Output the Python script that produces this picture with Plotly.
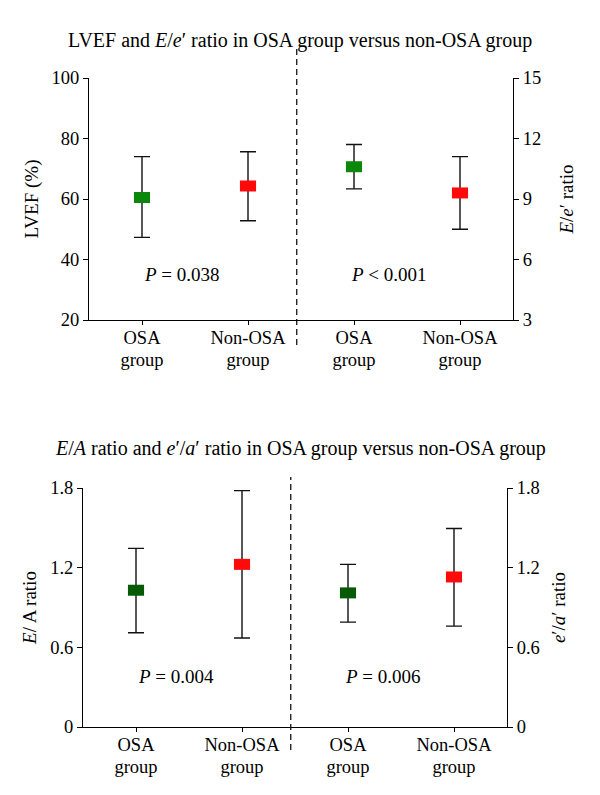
import plotly.graph_objects as go

# ---------------- data ----------------
cat_line1 = ["OSA", "Non-OSA", "OSA", "Non-OSA"]
cat_line2 = ["group", "group", "group", "group"]
x_pos = [1, 2, 3, 4]

# Top panel: LVEF (%) (left axis) and E/e' ratio (right axis)
lvef_mean = [60.5, 64.3]
lvef_upper = [74.0, 75.6]
lvef_lower = [47.3, 52.8]
ee_mean = [10.6, 9.3]
ee_upper = [11.7, 11.1]
ee_lower = [9.5, 7.5]

# Bottom panel: E/A ratio (left axis) and e'/a' ratio (right axis)
ea_mean = [1.03, 1.225]
ea_upper = [1.345, 1.78]
ea_lower = [0.71, 0.67]
eaa_mean = [1.01, 1.13]
eaa_upper = [1.225, 1.495]
eaa_lower = [0.79, 0.76]

p_texts_top = ["<i>P</i> = 0.038", "<i>P</i> < 0.001"]
p_texts_bottom = ["<i>P</i> = 0.004", "<i>P</i> = 0.006"]
p_y_top = [35.2, 5.28]
p_y_bottom = [0.384, 0.384]
p_x = [1.38, 3.33]
separator_x = 2.46

# ---------------- styles ----------------
FONT = "Liberation Serif"
GREEN_TOP = "#0b870b"
GREEN_BOT = "#065a06"
RED = "#ff0a0a"
BOX_HALF = 0.076

# page has an 8px body margin -> figure is drawn at (8, 8)
OFF = 8
W, H = 600 - OFF, 795 - OFF


def px_x(p):
    return (p - OFF) / W


def px_y(p):
    return 1 - (p - OFF) / H


fig = go.Figure()


def add_point(x, mean, up, lo, color, xa, ya):
    fig.add_trace(go.Scatter(
        x=[x], y=[mean], mode="markers",
        marker=dict(size=1, color=color),
        error_y=dict(type="data", symmetric=False,
                     array=[up - mean], arrayminus=[mean - lo],
                     color="#111111", thickness=1.4, width=8),
        error_x=dict(type="data", symmetric=True, array=[BOX_HALF],
                     color=color, thickness=11, width=0),
        xaxis=xa, yaxis=ya, showlegend=False, hoverinfo="skip",
    ))


# top panel
add_point(x_pos[0], lvef_mean[0], lvef_upper[0], lvef_lower[0], GREEN_TOP, "x", "y")
add_point(x_pos[1], lvef_mean[1], lvef_upper[1], lvef_lower[1], RED, "x", "y")
add_point(x_pos[2], ee_mean[0], ee_upper[0], ee_lower[0], GREEN_TOP, "x", "y2")
add_point(x_pos[3], ee_mean[1], ee_upper[1], ee_lower[1], RED, "x", "y2")
# bottom panel
add_point(x_pos[0], ea_mean[0], ea_upper[0], ea_lower[0], GREEN_BOT, "x2", "y3")
add_point(x_pos[1], ea_mean[1], ea_upper[1], ea_lower[1], RED, "x2", "y3")
add_point(x_pos[2], eaa_mean[0], eaa_upper[0], eaa_lower[0], GREEN_BOT, "x2", "y4")
add_point(x_pos[3], eaa_mean[1], eaa_upper[1], eaa_lower[1], RED, "x2", "y4")

# invisible carriers so the second-line ("group") axes get drawn
fig.add_trace(go.Scatter(x=x_pos, y=lvef_mean + lvef_mean, mode="markers",
                         marker=dict(opacity=0), xaxis="x3", yaxis="y",
                         showlegend=False, hoverinfo="skip"))
fig.add_trace(go.Scatter(x=x_pos, y=ea_mean + ea_mean, mode="markers",
                         marker=dict(opacity=0), xaxis="x4", yaxis="y3",
                         showlegend=False, hoverinfo="skip"))

FS = 18.5
tick_font = dict(family=FONT, size=FS, color="black")
title_font = dict(family=FONT, size=19, color="black")

common_x = dict(range=[0.5, 4.5], tickmode="array", tickvals=x_pos, ticktext=cat_line1,
                showline=True, linecolor="black", linewidth=1, ticks="outside",
                ticklen=4, tickcolor="black", showgrid=False, zeroline=False,
                tickfont=tick_font, fixedrange=True, automargin=False,
                ticklabelstandoff=-3)
second_x = dict(range=[0.5, 4.5], tickmode="array", tickvals=x_pos, ticktext=cat_line2,
                showline=False, ticks="", showgrid=False, zeroline=False, side="bottom",
                tickfont=tick_font, fixedrange=True, automargin=False,
                ticklabelstandoff=26)
common_y = dict(showline=True, linecolor="black", linewidth=1, ticks="outside",
                ticklen=5, tickcolor="black", showgrid=False, zeroline=False,
                tickfont=tick_font, fixedrange=True, automargin=False)

top_dom = [px_y(320), px_y(78)]
bot_dom = [px_y(727), px_y(488)]

fig.update_layout(
    width=W, height=H,
    margin=dict(l=0, r=0, t=0, b=0),
    paper_bgcolor="white", plot_bgcolor="white",
    font=dict(family=FONT, color="black"),
    xaxis=dict(common_x, domain=[px_x(89), px_x(513)], anchor="y"),
    xaxis3=dict(second_x, overlaying="x", anchor="y"),
    yaxis=dict(common_y, domain=top_dom, range=[20, 100], tickvals=[20, 40, 60, 80, 100],
               anchor="x", title=dict(text="LVEF (%)", font=title_font, standoff=7)),
    yaxis2=dict(common_y, range=[3, 15], tickvals=[3, 6, 9, 12, 15], overlaying="y",
                side="right", anchor="x",
                title=dict(text="<i>E</i>/<i>e</i>′ ratio", font=title_font, standoff=19)),
    xaxis2=dict(common_x, domain=[px_x(83), px_x(507)], anchor="y3"),
    xaxis4=dict(second_x, overlaying="x2", anchor="y3"),
    yaxis3=dict(common_y, domain=bot_dom, range=[0, 1.8], tickvals=[0, 0.6, 1.2, 1.8],
                ticktext=["0", "0.6", "1.2", "1.8"], anchor="x2",
                title=dict(text="<i>E</i>/ A ratio", font=title_font, standoff=8)),
    yaxis4=dict(common_y, range=[0, 1.8], tickvals=[0, 0.6, 1.2, 1.8],
                ticktext=["0", "0.6", "1.2", "1.8"], overlaying="y3", side="right",
                anchor="x2",
                title=dict(text="<i>e</i>′/<i>a</i>′ ratio", font=title_font, standoff=12)),
)

# titles
fig.add_annotation(text="LVEF and <i>E</i>/<i>e</i>′ ratio in OSA group versus non-OSA group",
                   x=px_x(300), y=px_y(40), xref="paper", yref="paper", showarrow=False,
                   xanchor="center", yanchor="middle",
                   font=dict(family=FONT, size=20, color="black"))
fig.add_annotation(text="<i>E</i>/<i>A</i> ratio and <i>e</i>′/<i>a</i>′ ratio in OSA group versus non-OSA group",
                   x=px_x(300), y=px_y(448), xref="paper", yref="paper", showarrow=False,
                   xanchor="center", yanchor="middle",
                   font=dict(family=FONT, size=20, color="black"))

# P-value annotations
pfont = dict(family=FONT, size=19, color="black")
fig.add_annotation(text=p_texts_top[0], x=p_x[0], y=p_y_top[0], xref="x", yref="y",
                   showarrow=False, font=pfont)
fig.add_annotation(text=p_texts_top[1], x=p_x[1], y=p_y_top[1], xref="x", yref="y2",
                   showarrow=False, font=pfont)
fig.add_annotation(text=p_texts_bottom[0], x=p_x[0], y=p_y_bottom[0], xref="x2", yref="y3",
                   showarrow=False, font=pfont)
fig.add_annotation(text=p_texts_bottom[1], x=p_x[1], y=p_y_bottom[1], xref="x2", yref="y4",
                   showarrow=False, font=pfont)

# dashed separators
fig.add_shape(type="line", xref="x", yref="paper", x0=separator_x, x1=separator_x,
              y0=px_y(345), y1=px_y(49),
              line=dict(color="black", width=1.2, dash="6px,4px"))
fig.add_shape(type="line", xref="x2", yref="paper", x0=separator_x, x1=separator_x,
              y0=px_y(750), y1=px_y(477),
              line=dict(color="black", width=1.2, dash="6px,4px"))

fig.write_html("out.html")
